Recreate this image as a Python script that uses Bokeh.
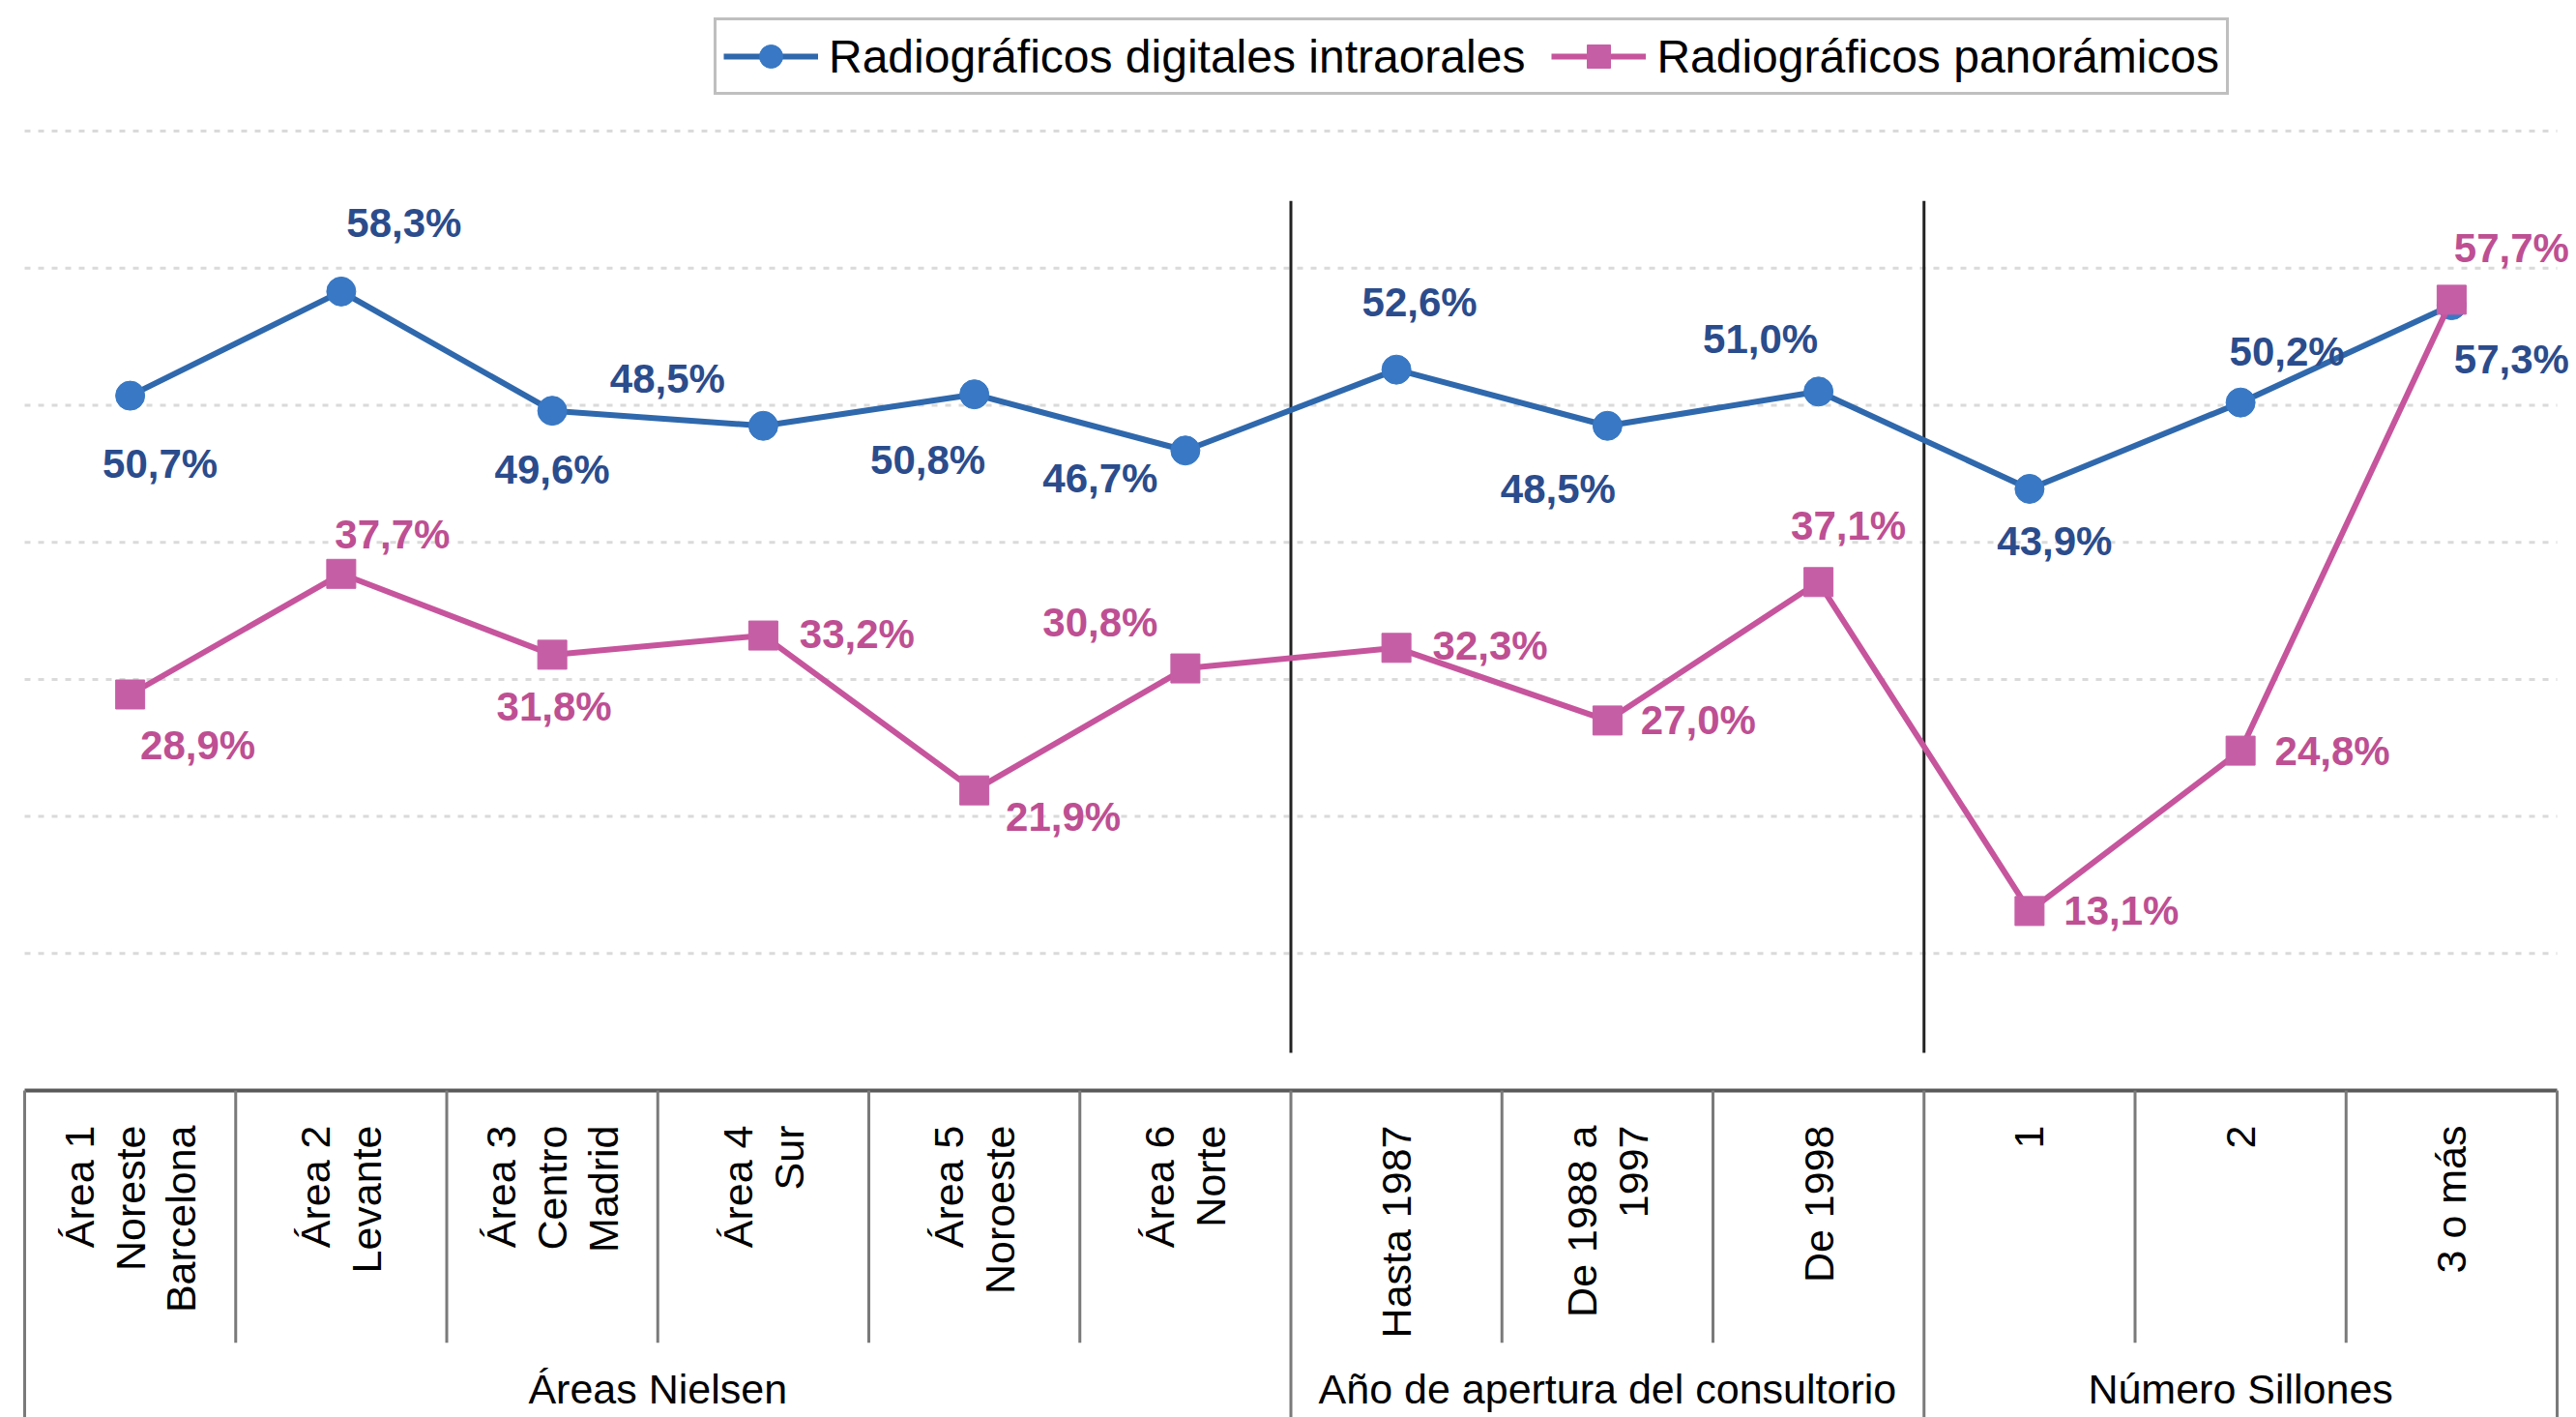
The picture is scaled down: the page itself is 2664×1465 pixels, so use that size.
import math
from bokeh.plotting import figure
from bokeh.models import Range1d, Legend, LegendItem, ColumnDataSource
from bokeh.core.properties import value
from bokeh.embed import file_html
from bokeh.resources import INLINE

# ---------------- data ----------------
categories = [
    "Área 1\nNoreste\nBarcelona",
    "Área 2\nLevante",
    "Área 3\nCentro\nMadrid",
    "Área 4\nSur",
    "Área 5\nNoroeste",
    "Área 6\nNorte",
    "Hasta 1987",
    "De 1988 a\n1997",
    "De 1998",
    "1",
    "2",
    "3 o más",
]
groups = ["Áreas Nielsen", "Año de apertura del consultorio", "Número Sillones"]
group_sizes = [6, 3, 3]
series_names = ["Radiográficos digitales intraorales", "Radiográficos panorámicos"]
intraorales = [50.7, 58.3, 49.6, 48.5, 50.8, 46.7, 52.6, 48.5, 51.0, 43.9, 50.2, 57.3]
panoramicos = [28.9, 37.7, 31.8, 33.2, 21.9, 30.8, 32.3, 27.0, 37.1, 13.1, 24.8, 57.7]
grid_values = [10, 20, 30, 40, 50, 60, 70]

# label offsets (screen px) for the value labels
blue_dx = [31, 65, 0, -99, -48, -88, 24, -51, -60, 26, 48, 62]
blue_dy = [70, -71, 61, -49, 68, 29, -70, 65, -54, 54, -53, 56]
pink_dx = [70, 53, 2, 97, 92, -88, 97, 94, 31, 95, 95, 62]
pink_dy = [53, -41, 54, -2, 27, -48, -2, 0, -58, 0, 0, -53]

def fmt(v):
    return f"{v:.1f}".replace(".", ",") + "%"

W, H = 2664, 1465
PX_X = 218.25
PX_Y = 14.17
LEFT = 25
ZERO_Y = 1127

n = len(categories)
xs = [i + 0.5 for i in range(n)]

p = figure(
    width=W, height=H, output_backend="svg", toolbar_location=None,
    x_range=Range1d(-LEFT / PX_X, (W - LEFT) / PX_X),
    y_range=Range1d(-(H - ZERO_Y) / PX_Y, ZERO_Y / PX_Y),
    min_border=0, min_border_left=0, min_border_right=0,
    min_border_top=0, min_border_bottom=0,
)
p.axis.visible = False
p.xgrid.visible = False
p.ygrid.visible = False
p.outline_line_color = None
p.background_fill_color = "white"
p.border_fill_color = "white"

FONT = "Liberation Sans"

# dotted gridlines
p.segment(x0=[0] * len(grid_values), x1=[n] * len(grid_values),
          y0=grid_values, y1=grid_values,
          line_color="#dadada", line_width=3, line_dash="6 8")

# group separators inside the plot
bounds = []
acc = 0
for s in group_sizes[:-1]:
    acc += s
    bounds.append(acc)
p.segment(x0=bounds, x1=bounds, y0=[2.75] * len(bounds), y1=[64.9] * len(bounds),
          line_color="#222222", line_width=3)

# series
BLUE_LINE = "#2F68AC"
BLUE_MARK = "#3878C4"
BLUE_TEXT = "#2B4C8C"
PINK_LINE = "#C6559D"
PINK_MARK = "#C65EA6"
PINK_TEXT = "#BE4F93"

bl = p.line(xs, intraorales, line_color=BLUE_LINE, line_width=6)
bs = p.scatter(xs, intraorales, marker="circle", size=30,
               fill_color=BLUE_MARK, line_color=BLUE_MARK)
pl = p.line(xs, panoramicos, line_color=PINK_LINE, line_width=6)
ps = p.scatter(xs, panoramicos, marker="square", size=30,
               fill_color=PINK_MARK, line_color=PINK_MARK)

src_b = ColumnDataSource(dict(x=xs, y=intraorales, t=[fmt(v) for v in intraorales],
                              dx=blue_dx, dy=blue_dy))
src_p = ColumnDataSource(dict(x=xs, y=panoramicos, t=[fmt(v) for v in panoramicos],
                              dx=pink_dx, dy=pink_dy))
p.text(x="x", y="y", text="t", x_offset="dx", y_offset="dy", source=src_b,
       text_font=value(FONT), text_font_size="42px", text_font_style="bold",
       text_color=BLUE_TEXT, text_align="center", text_baseline="middle")
p.text(x="x", y="y", text="t", x_offset="dx", y_offset="dy", source=src_p,
       text_font=value(FONT), text_font_size="42px", text_font_style="bold",
       text_color=PINK_TEXT, text_align="center", text_baseline="middle")

# ---------------- table below ----------------
y_bottom = -(H - ZERO_Y) / PX_Y
# top line
p.segment(x0=[0], x1=[n], y0=[0], y1=[0], line_color="#5a5a5a", line_width=4)
# outer borders
p.segment(x0=[0, n], x1=[0, n], y0=[0, 0], y1=[y_bottom, y_bottom],
          line_color="#7a7a7a", line_width=3)
# inner category dividers
inner = [i for i in range(1, n) if i not in bounds]
p.segment(x0=inner, x1=inner, y0=[0] * len(inner), y1=[-18.4] * len(inner),
          line_color="#7a7a7a", line_width=3)
# group dividers
p.segment(x0=bounds, x1=bounds, y0=[0] * len(bounds), y1=[y_bottom] * len(bounds),
          line_color="#7a7a7a", line_width=3)

# category labels (rotated)
p.text(x=xs, y=[-2.54] * n, text=categories, angle=math.pi / 2,
       text_font=value(FONT), text_font_size="43px", text_color="black",
       text_align="right", text_baseline="middle", text_line_height=1.1)

# group labels
gx = []
acc = 0
for s in group_sizes:
    gx.append(acc + s / 2)
    acc += s
p.text(x=gx, y=[-21.75] * len(groups), text=groups,
       text_font=value(FONT), text_font_size="43px", text_color="black",
       text_align="center", text_baseline="middle")

# ---------------- legend ----------------
legend = Legend(
    items=[LegendItem(label=series_names[0], renderers=[bl, bs]),
           LegendItem(label=series_names[1], renderers=[pl, ps])],
    orientation="horizontal",
    location=(738, H - 98),
    glyph_width=98, glyph_height=60, label_standoff=11, spacing=27,
    padding=7, margin=0,
    border_line_color="#808080", border_line_width=3,
    label_text_font=FONT, label_text_font_size="48px", label_text_color="black",
    background_fill_color="white", background_fill_alpha=1.0,
)
p.add_layout(legend, "center")

open("out.html", "w").write(file_html(p, INLINE))
